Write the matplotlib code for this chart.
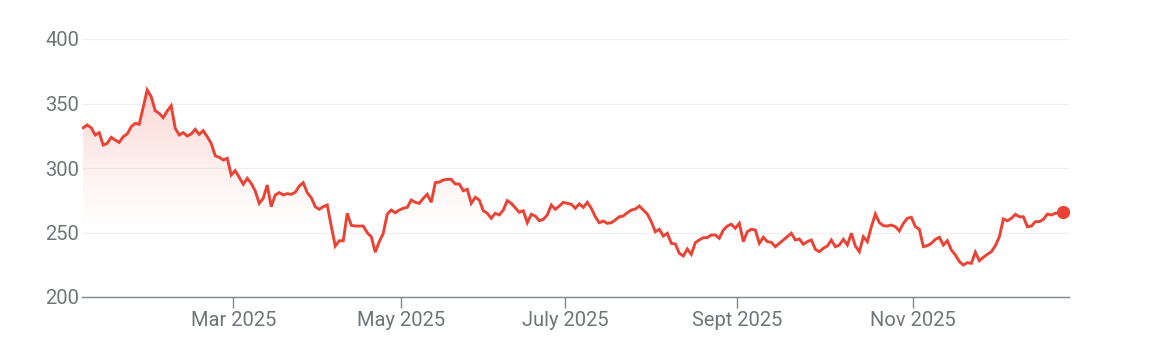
import numpy as np
import pandas as pd
import matplotlib
matplotlib.use("Agg")
import matplotlib.pyplot as plt
from matplotlib.colors import to_rgb

# daily closes, Jan 2025 -> late Dec 2025
prices = [331.2, 333.3, 331.2, 325.6, 327.4, 317.8, 319.1, 323.8, 321.7, 319.9,
          324.3, 326.4, 332.0, 334.6, 333.9, 347.0, 360.5, 355.3, 344.4, 342.4,
          339.0, 344.2, 348.3, 330.8, 325.6, 327.4, 324.8, 326.4, 330.0, 326.1,
          328.9, 324.3, 319.1, 309.5, 308.3, 306.2, 307.5, 294.6, 297.9, 292.8,
          287.4, 292.0, 288.1, 282.2, 272.6, 276.5, 286.8, 270.0, 279.1, 280.9,
          279.1, 280.1, 279.6, 281.2, 286.0, 288.6, 280.9, 277.0, 270.0, 268.0,
          270.0, 271.3, 255.0, 239.5, 243.6, 243.6, 264.9, 255.6, 255.0, 255.0,
          255.0, 249.8, 246.7, 234.7, 242.9, 249.4, 264.3, 267.4, 265.3, 267.4,
          268.8, 269.5, 275.2, 273.4, 272.6, 276.5, 279.6, 273.4, 288.6, 289.1,
          290.7, 291.2, 291.2, 287.6, 287.6, 282.4, 283.5, 272.6, 277.3, 275.2,
          266.9, 264.9, 261.0, 264.9, 263.6, 267.4, 274.7, 272.6, 269.2, 265.7,
          266.9, 257.6, 264.1, 262.8, 259.1, 260.2, 263.6, 271.3, 268.0, 270.5,
          273.4, 272.6, 271.9, 268.8, 272.1, 269.5, 273.4, 268.8, 262.2, 257.6,
          258.9, 257.1, 257.6, 259.7, 262.2, 262.8, 265.3, 267.4, 268.2, 270.5,
          267.4, 264.3, 258.4, 250.6, 252.5, 247.3, 249.4, 241.6, 241.1, 233.9,
          231.8, 237.2, 233.1, 242.1, 244.2, 246.0, 246.0, 248.1, 248.1, 245.5,
          251.9, 255.0, 256.4, 253.3, 257.1, 242.9, 250.6, 252.5, 251.9, 241.6,
          246.3, 242.9, 242.4, 239.0, 241.6, 244.2, 246.7, 249.4, 244.2, 245.0,
          240.9, 242.9, 244.2, 237.0, 235.1, 237.8, 239.5, 244.2, 239.0, 240.3,
          244.7, 240.3, 249.4, 239.5, 235.1, 246.7, 242.9, 254.5, 264.3, 257.6,
          255.3, 255.0, 255.8, 254.5, 251.2, 257.1, 261.0, 261.8, 254.5, 252.5,
          239.0, 239.8, 241.6, 244.7, 246.3, 240.3, 243.6, 236.4, 232.6, 227.4,
          224.8, 226.6, 226.1, 234.7, 228.1, 230.8, 233.1, 235.1, 239.8, 246.7,
          260.5, 259.1, 261.0, 264.1, 262.2, 262.2, 254.5, 255.0, 258.4, 258.4,
          260.2, 264.3, 263.6, 264.9, 265.2, 265.7]

holidays = ["2025-01-09", "2025-01-20", "2025-02-17", "2025-04-18", "2025-05-26",
            "2025-06-19", "2025-07-04", "2025-09-01", "2025-11-27", "2025-12-25"]
tick_months = ["2025-03-01", "2025-05-01", "2025-07-01", "2025-09-01", "2025-11-01"]
tick_labels = ["Mar 2025", "May 2025", "July 2025", "Sept 2025", "Nov 2025"]
y_ticks = [200, 250, 300, 350, 400]

red = "#ea4335"
grey_txt = "#70757a"
grey_axis = "#80868b"

dates = pd.bdate_range(start="2025-01-03", periods=len(prices), freq="C", holidays=holidays)
x = np.arange(len(prices))
y = np.array(prices)

# trading-day axis, tick sits on the month boundary between sessions
tick_pos = [np.searchsorted(dates, pd.Timestamp(m)) - 0.5 for m in tick_months]

plt.rcParams['font.family'] = ['Roboto', 'DejaVu Sans']
fig = plt.figure(figsize=(11.54, 3.64), dpi=100)
ax = fig.add_axes([82 / 1154, 67 / 364, 987 / 1154, 258 / 364])

ax.set_xlim(-0.3, len(prices) + 0.4)
ax.set_ylim(200, 400)

# gradient fill under the line
poly = ax.fill_between(x, y, 200, color="none", lw=0)
vals = np.linspace(200, 400, 300)
alpha = 0.22 * np.clip((vals - 248) / (362 - 248), 0, 1) ** 1.3
img = np.zeros((300, 2, 4))
img[:, :, :3] = to_rgb(red)
img[:, :, 3] = alpha[:, None]
im = ax.imshow(img, extent=[x[0], x[-1], 200, 400], origin="lower", aspect="auto",
               interpolation="bilinear", zorder=1)
im.set_clip_path(poly.get_paths()[0], transform=ax.transData)

ax.plot(x, y, color=red, lw=2.1, zorder=3, solid_joinstyle="miter")
ax.plot(x[-1], y[-1], "o", color=red, ms=8.5, zorder=4)

ax.set_yticks(y_ticks)
ax.set_yticklabels([str(v) for v in y_ticks])
ax.set_xticks(tick_pos)
ax.set_xticklabels(tick_labels)
ax.yaxis.grid(True, color="#f0f0f0", lw=1)
ax.set_axisbelow(True)

for s in ["top", "right", "left"]:
    ax.spines[s].set_visible(False)
ax.spines["bottom"].set_color(grey_axis)
ax.spines["bottom"].set_linewidth(1)

ax.tick_params(axis="y", length=0, pad=2, labelsize=14.5, labelcolor=grey_txt)
ax.tick_params(axis="x", length=8, width=1, color=grey_axis, pad=2,
               labelsize=14.5, labelcolor=grey_txt)

fig.savefig("out.png", dpi=100)
